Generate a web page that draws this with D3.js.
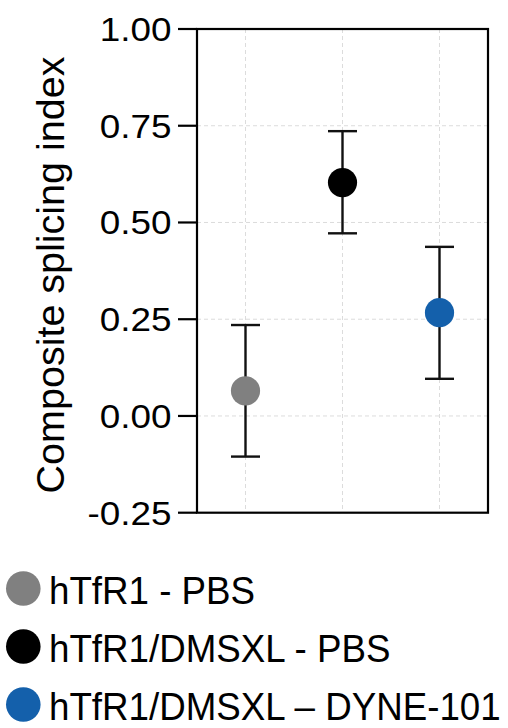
<!DOCTYPE html>
<html>
<head>
<meta charset="utf-8">
<script src="https://cdn.jsdelivr.net/npm/d3@7"></script>
<style>
  html, body { margin: 0; padding: 0; background: #fff; }
  svg { display: block; }
</style>
</head>
<body>
<svg id="chart" width="508" height="728"></svg>
<script>
const categories = ["hTfR1 - PBS", "hTfR1/DMSXL - PBS", "hTfR1/DMSXL \u2013 DYNE-101"];
const means = [0.065, 0.603, 0.267];
const errLow = [-0.105, 0.472, 0.096];
const errHigh = [0.235, 0.736, 0.437];
const colors = ["#808080", "#000000", "#1460ab"];
const yTicks = [-0.25, 0, 0.25, 0.5, 0.75, 1.0];
const yTickLabels = ["-0.25", "0.00", "0.25", "0.50", "0.75", "1.00"];
const yTitle = "Composite splicing index";

const svg = d3.select("#chart");
const L = 197, R = 488, T = 29, B = 512.7;
const font = "'Liberation Sans', Arial, Helvetica, sans-serif";

const x = d3.scalePoint().domain(categories).range([L, R]).padding(0.5);
const y = d3.scaleLinear().domain([-0.25, 1]).range([B, T]);

// grid
const grid = svg.append("g");
grid.selectAll("line.h").data(yTicks).join("line")
  .attr("x1", L).attr("x2", R)
  .attr("y1", d => y(d)).attr("y2", d => y(d))
  .attr("stroke", "#dcdcdc").attr("stroke-width", 1).attr("stroke-dasharray", "4,3");
grid.selectAll("line.v").data(categories).join("line")
  .attr("x1", d => x(d)).attr("x2", d => x(d))
  .attr("y1", T).attr("y2", B)
  .attr("stroke", "#dcdcdc").attr("stroke-width", 1).attr("stroke-dasharray", "4,3");

// error bars
const data = categories.map((c, i) => ({c, m: means[i], lo: errLow[i], hi: errHigh[i], col: colors[i]}));
const eb = svg.append("g").attr("stroke", "#111").attr("stroke-width", 2.4);
eb.selectAll("line.stem").data(data).join("line")
  .attr("x1", d => x(d.c)).attr("x2", d => x(d.c))
  .attr("y1", d => y(d.lo)).attr("y2", d => y(d.hi));
eb.selectAll("line.capH").data(data).join("line")
  .attr("x1", d => x(d.c) - 14.5).attr("x2", d => x(d.c) + 14.5)
  .attr("y1", d => y(d.hi)).attr("y2", d => y(d.hi));
eb.selectAll("line.capL").data(data).join("line")
  .attr("x1", d => x(d.c) - 14.5).attr("x2", d => x(d.c) + 14.5)
  .attr("y1", d => y(d.lo)).attr("y2", d => y(d.lo));

// points
svg.append("g").selectAll("circle").data(data).join("circle")
  .attr("cx", d => x(d.c)).attr("cy", d => y(d.m)).attr("r", 14.6)
  .attr("fill", d => d.col);

// frame
svg.append("rect").attr("x", L).attr("y", T).attr("width", R - L).attr("height", B - T)
  .attr("fill", "none").attr("stroke", "#000").attr("stroke-width", 2.2);

// y ticks
const ax = svg.append("g");
ax.selectAll("line").data(yTicks).join("line")
  .attr("x1", L - 19).attr("x2", L)
  .attr("y1", d => y(d)).attr("y2", d => y(d))
  .attr("stroke", "#000").attr("stroke-width", 2.2);
ax.selectAll("text").data(yTicks).join("text")
  .attr("transform", d => `translate(${L - 25.5},${y(d) + 12}) scale(1.1,1)`)
  .attr("text-anchor", "end")
  .attr("font-family", font).attr("font-size", 33.5)
  .attr("fill", "#000")
  .text((d, i) => yTickLabels[i]);

// y title
svg.append("text")
  .attr("transform", `translate(63.5,275) rotate(-90)`)
  .attr("text-anchor", "middle")
  .attr("font-family", font).attr("font-size", 39.5)
  .attr("fill", "#000")
  .text(yTitle);

// legend
const lg = svg.append("g");
const legCY = [588.5, 646.5, 704.5];
const legBase = [603.5, 661.5, 719.5];
lg.selectAll("circle").data(data).join("circle")
  .attr("cx", 23.3).attr("cy", (d, i) => legCY[i]).attr("r", 17.3)
  .attr("fill", d => d.col);
lg.selectAll("text").data(data).join("text")
  .attr("transform", (d, i) => `translate(49,${legBase[i]}) scale(0.93,1)`)
  .attr("font-family", font).attr("font-size", 39.5)
  .attr("fill", "#000")
  .text(d => d.c);
</script>
</body>
</html>
